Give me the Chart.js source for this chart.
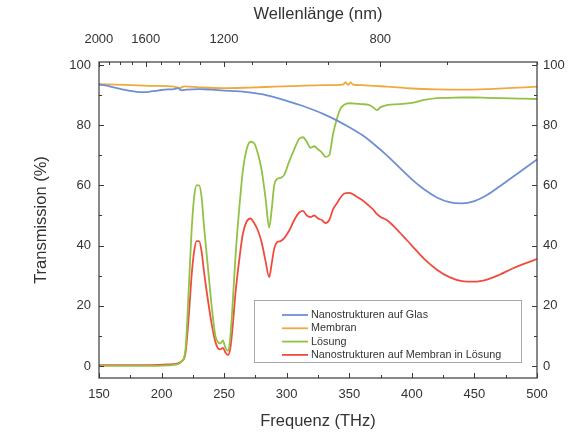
<!DOCTYPE html>
<html><head><meta charset="utf-8">
<script src="https://cdn.jsdelivr.net/npm/chart.js@4"></script>
<style>html,body{margin:0;padding:0;background:#fff}#wrap{width:585px;height:432px}</style>
</head><body><div id="wrap"><canvas id="c" width="585" height="432"></canvas></div>
<script>
// ---- data (frequency in THz, transmission in %) ----
const freqBlue  = [150,155,160,165,170,175,180,185,190,195,200,205,210,213,216,220,230,240,250,260,270,280,290,300,310,320,330,340,350,360,370,380,390,400,410,420,430,440,450,460,470,480,490,500];
const transBlue = [93.5,93.2,92.7,92.2,91.8,91.4,91.1,91.0,91.1,91.4,91.7,91.9,92.0,92.3,91.6,91.8,92.0,91.8,91.5,91.3,90.9,90.3,89.3,88.1,86.8,85.3,83.6,81.6,79.3,76.8,73.6,70.0,66.0,62.0,58.6,56.0,54.4,54.0,54.8,56.8,59.6,62.6,65.6,68.6];

const freqYellow  = [150,170,190,210,215,218,230,250,270,290,310,330,345,347,349,351,353,360,380,400,420,440,460,480,500];
const transYellow = [93.6,93.4,93.1,92.8,92.4,92.9,92.6,92.3,92.5,92.8,93.1,93.3,93.5,94.3,93.4,94.2,93.5,93.3,92.8,92.2,91.9,91.8,92.0,92.4,92.8];

const freqSol = [150,170,190,205,212,216,219,222,224,226,228,230,232,234,237,240,243,245,247,249,251,253,255,257,259,262,265,268,271,274,277,280,283,286,288,290,292,295,298,302,306,310,313,316,319,322,325,328,331,334,337,340,343,346,350,355,360,365,369,372,375,380,390,400,410,420,430,440,450,460,470,480,490,500];
const transGreen = [0,0,0,0.2,0.5,1.5,5,28,45,56,60,60,56,46,33,20,10,8,7.5,8.5,6,5,10,22,36,52,65,72,74.5,74,70.5,65,56,46,52,60,62,62.5,63.5,68,72,75.5,76,74.5,72.5,73,72,71,69.5,70,77,82,85.5,86.8,87.3,87.2,87,86.8,86,85,86,86.7,87,87.4,88.4,89,89.1,89.2,89.2,89.1,89,88.9,88.8,88.7];
const transRed   = [0.3,0.3,0.3,0.5,0.8,1.5,4,18,30,38,41.5,41.5,38,31,22,14,8,6,5.5,6,4.5,3.6,6,14,24,35,44,48,49,47.5,45,41,35,29.5,34,39,41,41.5,42.5,45,48.5,51,51.5,50,49.5,50,49,48.5,47.5,48.5,52,54,56,57.3,57.5,56.5,55.2,53.5,52,50.5,49.5,48.5,44.5,40,35.5,32,29.5,28.2,28,28.7,30.3,32.3,34,35.5];

const seriesNames = ["Nanostrukturen auf Glas","Membran","Lösung","Nanostrukturen auf Membran in Lösung"];
const seriesColors = ["#6f8fd4","#eeaa3c","#92c244","#f04c3e"];

const freqTicks = [150,200,250,300,350,400,450,500];
const yTickValues = [0,20,40,60,80,100];
const wavelengthLabeled = [2000,1600,1200,800];
const wavelengthMinor = [2000,1900,1800,1700,1600,1500,1400,1300,1200,1100,1000,900,800,700,600];
const C_NM_THZ = 299792.458;

const pts = (xs, ys) => xs.map((x, i) => ({x: x, y: ys[i]}));

const FONT = "'Liberation Sans', Arial, sans-serif";
const TXT = "#333333";
const TICK_FONT = {family: FONT, size: 13};
const TITLE_FONT = {family: FONT, size: 16.5};

const framePlugin = {
  id: 'frame',
  afterDatasetsDraw(chart) {
    const {ctx, chartArea: a, scales} = chart;
    ctx.save();
    ctx.strokeStyle = '#3a3a3a';
    ctx.lineWidth = 1.2;
    ctx.strokeRect(a.left, a.top, a.right - a.left, a.bottom - a.top);
    ctx.lineWidth = 1;
    const line = (x1, y1, x2, y2) => { ctx.beginPath(); ctx.moveTo(x1, y1); ctx.lineTo(x2, y2); ctx.stroke(); };
    for (let v = 150; v <= 500; v += 25) {
      const px = Math.round(scales.x.getPixelForValue(v)) + 0.5;
      const len = (v % 50 === 0) ? 5 : 3;
      line(px, a.bottom, px, a.bottom - len);
    }
    wavelengthMinor.forEach(w => {
      const px = Math.round(scales.x2.getPixelForValue(C_NM_THZ / w)) + 0.5;
      const len = wavelengthLabeled.includes(w) ? 5 : 3;
      line(px, a.top, px, a.top + len);
    });
    for (let v = 0; v <= 100; v += 10) {
      const py = Math.round(scales.y.getPixelForValue(v)) + 0.5;
      const len = (v % 20 === 0) ? 5 : 3;
      line(a.left, py, a.left + len, py);
      line(a.right, py, a.right - len, py);
    }
    ctx.restore();
  }
};

const legendPlugin = {
  id: 'boxLegend',
  afterDatasetsDraw(chart) {
    const {ctx, chartArea: a} = chart;
    const right = a.right - 16, bottom = a.bottom - 16;
    const left = right - 267, top = bottom - 62;
    ctx.save();
    ctx.fillStyle = '#ffffff';
    ctx.fillRect(left, top, right - left, bottom - top);
    ctx.strokeStyle = '#a8a8a8';
    ctx.lineWidth = 1;
    ctx.strokeRect(left + 0.5, top + 0.5, right - left, bottom - top);
    ctx.font = "10.8px " + FONT;
    ctx.textBaseline = 'middle';
    ctx.textAlign = 'left';
    chart.data.datasets.forEach((ds, i) => {
      const y = top + 15 + i * 13.3;
      ctx.strokeStyle = ds.borderColor;
      ctx.lineWidth = 1.8;
      ctx.beginPath(); ctx.moveTo(left + 28, y); ctx.lineTo(left + 54, y); ctx.stroke();
      ctx.fillStyle = TXT;
      ctx.fillText(ds.label, left + 57, y);
    });
    ctx.restore();
  }
};

const mkDs = (i, data) => ({
  label: seriesNames[i], data: data, borderColor: seriesColors[i], backgroundColor: seriesColors[i],
  borderWidth: 1.8, pointRadius: 0, fill: false, cubicInterpolationMode: 'monotone', xAxisID: 'x', yAxisID: 'y'
});

new Chart(document.getElementById('c'), {
  type: 'line',
  data: {
    datasets: [
      mkDs(0, pts(freqBlue, transBlue)),
      mkDs(1, pts(freqYellow, transYellow)),
      mkDs(2, pts(freqSol, transGreen)),
      mkDs(3, pts(freqSol, transRed))
    ]
  },
  options: {
    responsive: false, animation: false, devicePixelRatio: 1,
    layout: {padding: 0},
    plugins: {legend: {display: false}, tooltip: {enabled: false}},
    scales: {
      x: {
        type: 'linear', position: 'bottom', min: 150, max: 500,
        afterBuildTicks: s => { s.ticks = freqTicks.map(v => ({value: v})); },
        afterFit: s => { s.height = 54; },
        grid: {display: false, drawTicks: false}, border: {display: false},
        ticks: {color: TXT, font: TICK_FONT, padding: 9, maxRotation: 0, autoSkip: false},
        title: {display: true, text: 'Frequenz (THz)', color: TXT, font: TITLE_FONT, padding: {top: 0, bottom: 0.5}}
      },
      x2: {
        type: 'linear', position: 'top', min: 150, max: 500,
        afterBuildTicks: s => { s.ticks = wavelengthLabeled.map(w => ({value: C_NM_THZ / w})); },
        afterFit: s => { s.height = 62; },
        grid: {display: false, drawTicks: false}, border: {display: false},
        ticks: {color: TXT, font: TICK_FONT, padding: 15, maxRotation: 0, autoSkip: false,
          callback: v => String(Math.round(C_NM_THZ / v / 100) * 100)},
        title: {display: true, text: 'Wellenlänge (nm)', color: TXT, font: TITLE_FONT, padding: {top: 5, bottom: 0}}
      },
      y: {
        type: 'linear', position: 'left', min: -4, max: 101,
        afterBuildTicks: s => { s.ticks = yTickValues.map(v => ({value: v})); },
        afterFit: s => { s.width = 99; },
        grid: {display: false, drawTicks: false}, border: {display: false},
        ticks: {color: TXT, font: TICK_FONT, padding: 8},
        title: {display: true, text: 'Transmission (%)', color: TXT, font: TITLE_FONT, padding: {top: 32, bottom: 0}}
      },
      y2: {
        type: 'linear', position: 'right', min: -4, max: 101,
        afterBuildTicks: s => { s.ticks = yTickValues.map(v => ({value: v})); },
        afterFit: s => { s.width = 48; },
        grid: {display: false, drawTicks: false}, border: {display: false},
        ticks: {color: TXT, font: TICK_FONT, padding: 6}
      }
    }
  },
  plugins: [framePlugin, legendPlugin]
});
</script>
</body></html>
